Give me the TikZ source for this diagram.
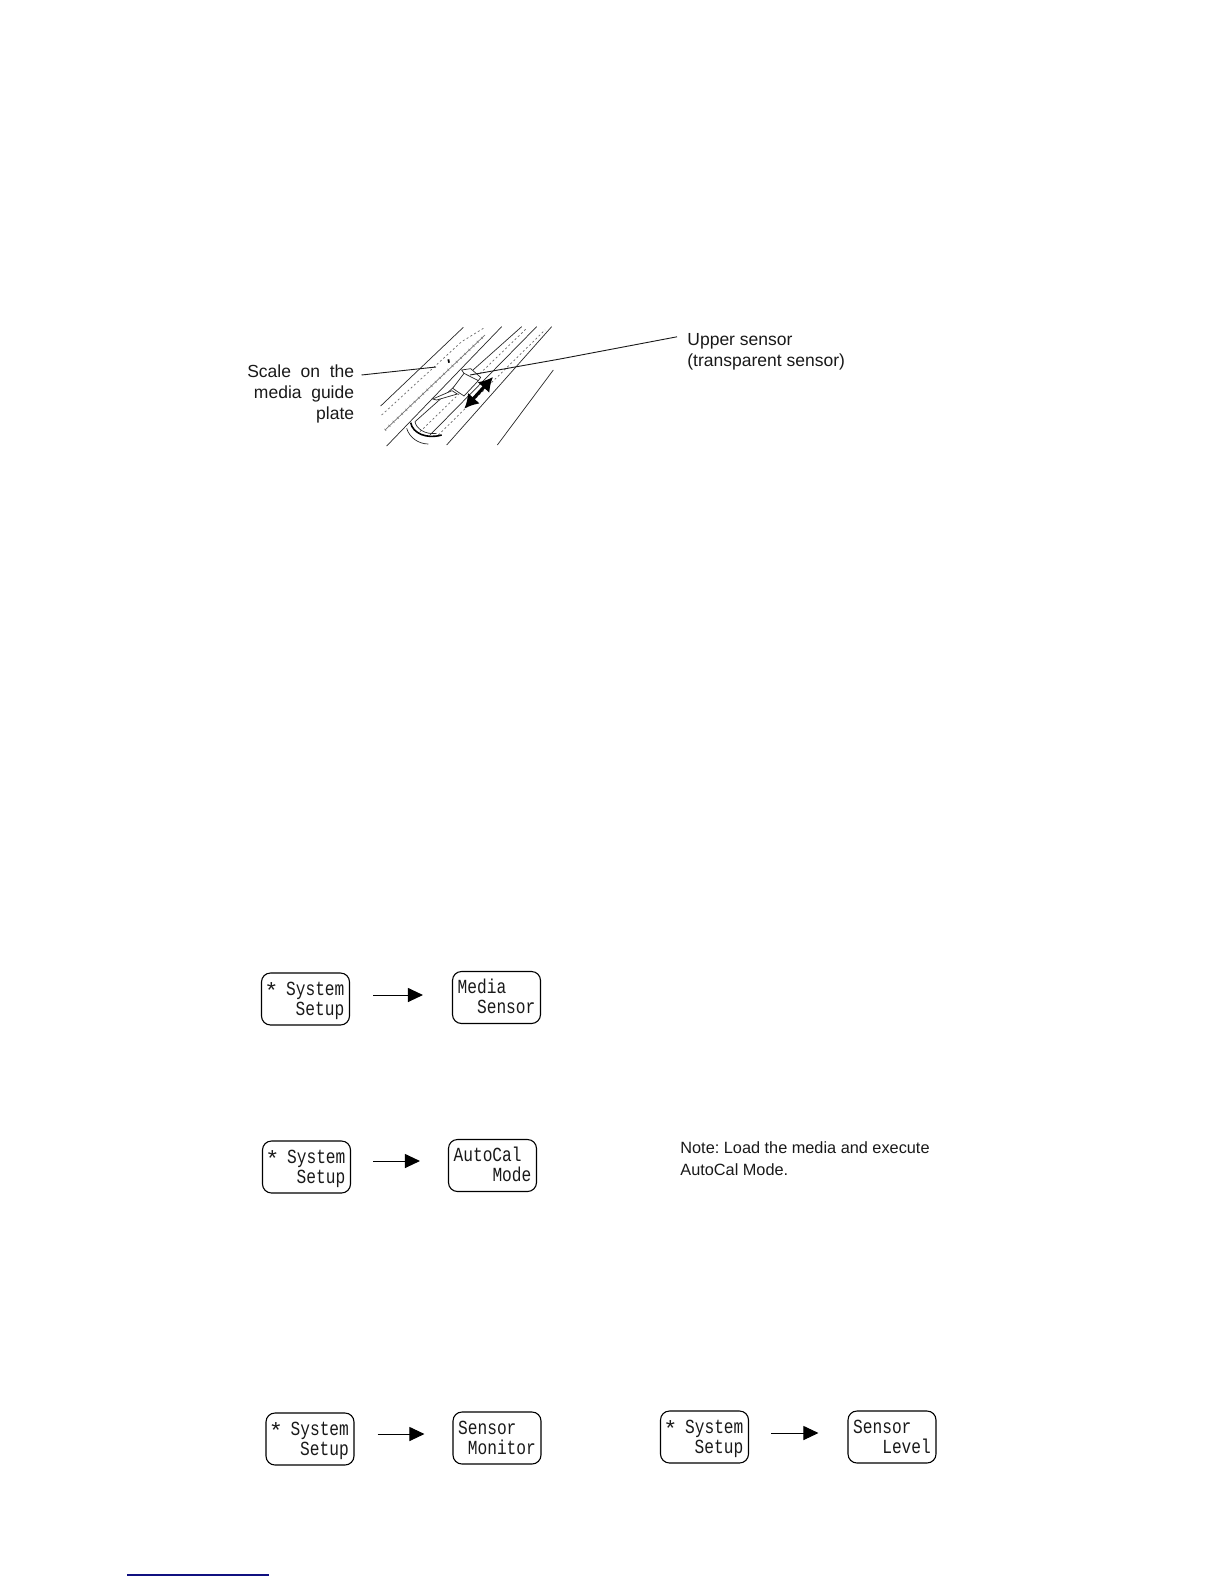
\documentclass[tikz,border=0pt]{standalone}
\usepackage{graphicx}
\usepackage{fontspec}
\setmainfont{Liberation Sans}
\newfontfamily\keyfont[FakeStretch=0.81]{Liberation Mono}
\usetikzlibrary{arrows.meta}
\definecolor{rulenavy}{RGB}{16,16,128}
\newcommand\keylines[2]{\rule[-2pt]{0pt}{11pt}\smash{#1}\\\rule[-3pt]{0pt}{11pt}\smash{#2}}
\newcommand\keystar{\makebox[4.9pt]{\raisebox{-1.8pt}{\scalebox{1.45}[1.1]{*}}}}
\tikzset{
  keybox/.style={draw=black,line width=0.55pt,rounded corners=4.5pt,minimum width=44pt,minimum height=26pt,inner sep=0pt,align=left,font=\keyfont\fontsize{10pt}{10pt}\selectfont,text=black!90},
  flow/.style={line width=0.5pt,-{Triangle[length=7.5pt,width=7pt]}},
  label/.style={inner sep=0pt,font=\fontsize{8.75pt}{10.5pt}\selectfont,text=black!90},
  note/.style={inner sep=0pt,font=\fontsize{8.15pt}{11pt}\selectfont,text=black!90},
  art/.style={line width=0.35pt,black!85},
  scaleline/.style={line width=0.35pt,black!60,dash pattern=on 1pt off 1.2pt},
  tickline/.style={line width=1.4pt,black!45,dash pattern=on 0.3pt off 2.6pt},
  leader/.style={line width=0.45pt,black!90},
}
\begin{document}
\begin{tikzpicture}[x=0.5pt,y=-0.5pt]
\useasboundingbox (0,0) rectangle (1224,1584);
% illustration (coordinates in 3x crop units)
\begin{scope}[shift={(370,320)},x=0.16667pt,y=-0.16667pt]
\draw[art] (32,258) -- (280,22);
\draw[scaleline] (35,285) -- (275,65) -- (345,22);
\draw[tickline] (45,330) -- (345,45);
\draw[art,black!55] (45,330) -- (345,45);
\draw[art] (50,378) -- (395,20);
\draw[art] (135,305) -- (455,20);
\draw[scaleline] (150,335) -- (470,25);
\draw[art] (180,345) -- (500,20);
\draw[scaleline] (205,345) -- (525,30);
\draw[art] (230,375) -- (545,20);
\draw[art] (382,375) -- (550,150);
\draw[line width=0.9pt,black] (235,118) -- (237,128);
\draw[line width=0.8pt] (122,308) .. controls (128,340) and (170,358) .. (215,345);
\draw[art] (110,325) .. controls (118,352) and (145,372) .. (175,372);
\draw[art] (135,305) .. controls (138,325) and (165,345) .. (200,340);
% sensor
\draw[art,fill=white] (248,205) -- (282,160) -- (275,150) -- (302,146) -- (332,172) -- (325,182) -- (282,228) -- cycle;
\draw[art] (282,160) -- (325,182);
\draw[art,fill=white] (188,237) -- (246,212) -- (262,222) -- (200,240) -- cycle;
\draw[line width=1.6pt,{Latex[length=7pt,width=8pt]}-{Latex[length=7pt,width=8pt]}] (283,266) -- (369,171);
\end{scope}
% labels
\node[label,anchor=base east] (scale1) at (354.5,377) {Scale\hspace{0.55em}on\hspace{0.55em}the};
\node[label,anchor=base east] (scale2) at (354.5,398) {media\hspace{0.55em}guide};
\node[label,anchor=base east] (scale3) at (354.5,419) {plate};
\node[label,anchor=base west] (upper1) at (687,345) {Upper sensor};
\node[label,anchor=base west] (upper2) at (687,366) {(transparent sensor)};
\coordinate (scaleEnd) at (436,367);
\coordinate (upperEnd) at (470,375);
\draw[leader] ([xshift=3.5pt,yshift=1pt]scale1.base east) -- (scaleEnd);
\draw[leader] ([xshift=-5pt,yshift=2pt]upper1.west) -- (560,359) -- (upperEnd);
% key panels
\node[keybox] (a1) at (305.5,999) {\keylines{\keystar{} System}{~~~Setup}};
\node[keybox] (a2) at (496.5,997.5) {\keylines{Media}{~~Sensor}};
\node[keybox] (b1) at (306.5,1167) {\keylines{\keystar{} System}{~~~Setup}};
\node[keybox] (b2) at (492.5,1165.5) {\keylines{AutoCal}{~~~~Mode}};
\node[keybox] (c1) at (310,1439) {\keylines{\keystar{} System}{~~~Setup}};
\node[keybox] (c2) at (497,1438) {\keylines{Sensor}{~Monitor}};
\node[keybox] (d1) at (704.5,1437) {\keylines{\keystar{} System}{~~~Setup}};
\node[keybox] (d2) at (892,1437) {\keylines{Sensor}{~~~Level}};
\draw[flow] ([xshift=11.5pt,yshift=2pt]a1.east) -- ([xshift=-14.5pt,yshift=1.25pt]a2.west);
\draw[flow] ([xshift=11pt,yshift=3pt]b1.east) -- ([xshift=-14pt,yshift=2.25pt]b2.west);
\draw[flow] ([xshift=11.5pt,yshift=2.5pt]c1.east) -- ([xshift=-14pt,yshift=2pt]c2.west);
\draw[flow] ([xshift=11pt,yshift=2pt]d1.east) -- ([xshift=-14.5pt,yshift=2pt]d2.west);
% note
\node[note,anchor=base west] (note1) at (680,1153) {\frenchspacing Note: Load the media and execute};
\node[note,anchor=base west] (note2) at (680,1175) {AutoCal Mode.};
% footer rule
\coordinate (ruleA) at (127,1575);
\coordinate (ruleB) at (269,1575);
\draw[rulenavy,line width=0.6pt] (ruleA) -- (ruleB);
\end{tikzpicture}
\end{document}
